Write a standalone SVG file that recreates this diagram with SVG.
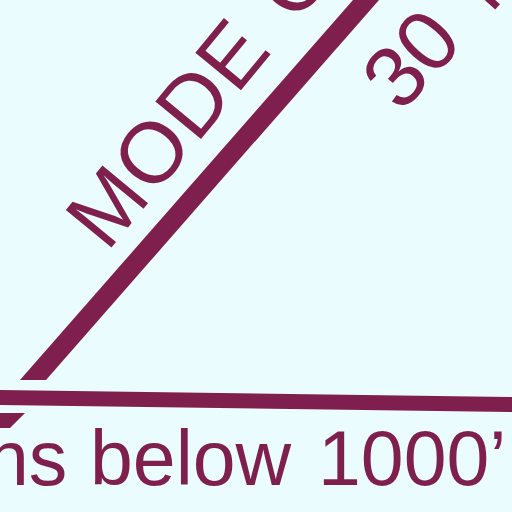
<svg xmlns="http://www.w3.org/2000/svg" width="512" height="512" viewBox="0 0 512 512">
<style>
.ink{fill:#7f1f4e}
.t{font-family:"Liberation Sans",Arial,sans-serif;fill:#7f1f4e}
</style>
<rect width="512" height="512" fill="#eafcfe"/>
<g id="lines">
<polygon class="ink" points="20,380 46,380 379,0 353,0"/>
<polygon class="ink" points="0,390 512,397 512,412 0,405"/>
<polygon class="ink" points="0,413 25,413 10,428 0,428"/>
</g>
<g id="label-mode-c">
<text class="t" font-size="86" letter-spacing="1" transform="translate(107,253) rotate(-50.5)">MODE<tspan dx="34">C</tspan></text>
</g>
<g id="label-30nm">
<text class="t" font-size="86" transform="translate(401,114) rotate(-48)">30<tspan dx="38">NM</tspan></text>
</g>
<g id="label-bottom">
<text class="t" font-size="77" y="485"><tspan x="-14">ns</tspan><tspan x="90">below</tspan><tspan x="318">1000’</tspan></text>
</g>
</svg>
